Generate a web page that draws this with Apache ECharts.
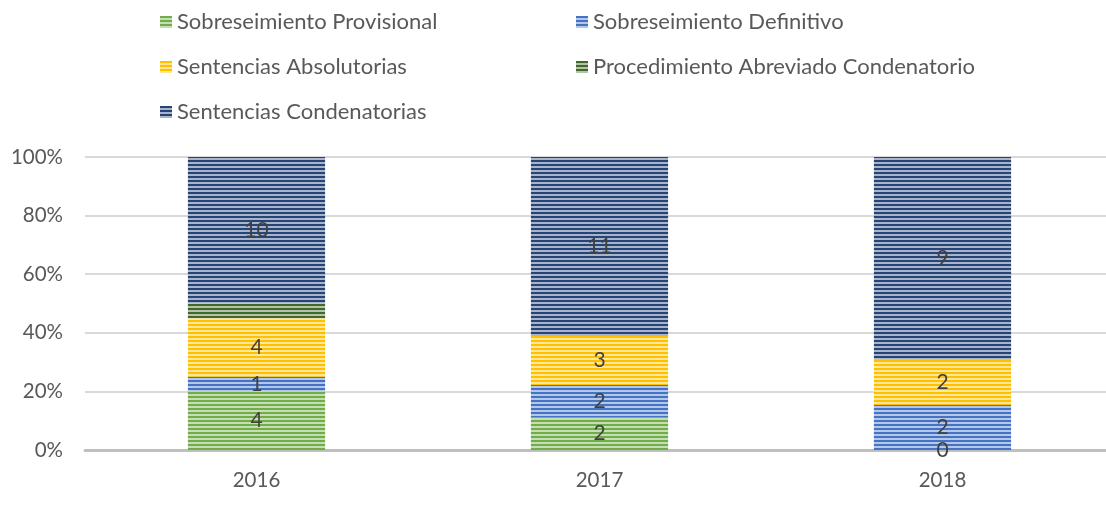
<!DOCTYPE html>
<html>
<head>
<meta charset="utf-8">
<script src="https://cdn.jsdelivr.net/npm/echarts@6/dist/echarts.min.js"></script>
<style>
  html, body { margin: 0; padding: 0; background: #fff; overflow: hidden; }
  #chart { width: 1114px; height: 508px; }
</style>
</head>
<body>
<div id="chart"></div>
<script>
// datos
const years = ['2016', '2017', '2018'];
const seriesNames = ['Sobreseimiento Provisional', 'Sobreseimiento Definitivo', 'Sentencias Absolutorias',
                     'Procedimiento Abreviado Condenatorio', 'Sentencias Condenatorias'];
const sobreseimientoProvisional = [4, 2, 0];
const sobreseimientoDefinitivo = [1, 2, 2];
const sentenciasAbsolutorias = [4, 3, 2];
const procedimientoAbreviado = [1, 0, 0];
const sentenciasCondenatorias = [10, 11, 9];
const yTicks = [0, 20, 40, 60, 80, 100];

const colors = ['#70AD47', '#4472C4', '#FFC000', '#43682B', '#264478'];
const showLabel = [true, true, true, false, true];

const allValues = [sobreseimientoProvisional, sobreseimientoDefinitivo, sentenciasAbsolutorias,
                   procedimientoAbreviado, sentenciasCondenatorias];
const totals = years.map((y, i) => allValues.reduce((s, arr) => s + arr[i], 0));

// rayas horizontales
function stripe(color) {
  const c = document.createElement('canvas');
  c.width = 4; c.height = 4;
  const ctx = c.getContext('2d');
  ctx.fillStyle = '#fff';
  ctx.fillRect(0, 0, 4, 4);
  ctx.fillStyle = color;
  ctx.fillRect(0, 0, 4, 2);
  ctx.globalAlpha = 0.4;
  ctx.fillRect(0, 2, 4, 2);
  return { image: c, repeat: 'repeat' };
}

const font = 'Lato';

const series = seriesNames.map((name, k) => ({
  name: name,
  type: 'bar',
  stack: 'total',
  barWidth: '40%',
  itemStyle: { color: stripe(colors[k]) },
  label: {
    show: showLabel[k],
    position: 'inside',
    color: '#404040',
    fontFamily: font,
    fontSize: 21,
    formatter: p => allValues[k][p.dataIndex]
  },
  data: allValues[k].map((v, i) => v / totals[i] * 100)
}));

const legendPos = [[155, 6], [571, 6], [155, 51], [571, 51], [155, 96]];
const legends = seriesNames.map((name, k) => ({
  data: [name],
  left: legendPos[k][0],
  top: legendPos[k][1],
  icon: 'rect',
  itemWidth: 12,
  itemHeight: 12,
  itemGap: 4,
  textStyle: { color: '#595959', fontFamily: font, fontSize: 22 }
}));

const chart = echarts.init(document.getElementById('chart'));
chart.setOption({
  animation: false,
  legend: legends,
  grid: { left: 85, top: 157, right: 0, height: 293, containLabel: false },
  xAxis: {
    type: 'category',
    data: years,
    axisLine: { lineStyle: { color: '#BFBFBF', width: 3 } },
    axisTick: { show: false },
    axisLabel: { color: '#595959', fontFamily: font, fontSize: 20.5, margin: 20 }
  },
  yAxis: {
    type: 'value',
    min: 0,
    max: 100,
    interval: 20,
    axisLine: { show: false },
    axisTick: { show: false },
    splitLine: { lineStyle: { color: '#D9D9D9', width: 2 } },
    axisLabel: {
      color: '#595959', fontFamily: font, fontSize: 20.5, margin: 22,
      formatter: v => yTicks.includes(v) ? v + '%' : ''
    }
  },
  series: series
});
</script>
</body>
</html>
